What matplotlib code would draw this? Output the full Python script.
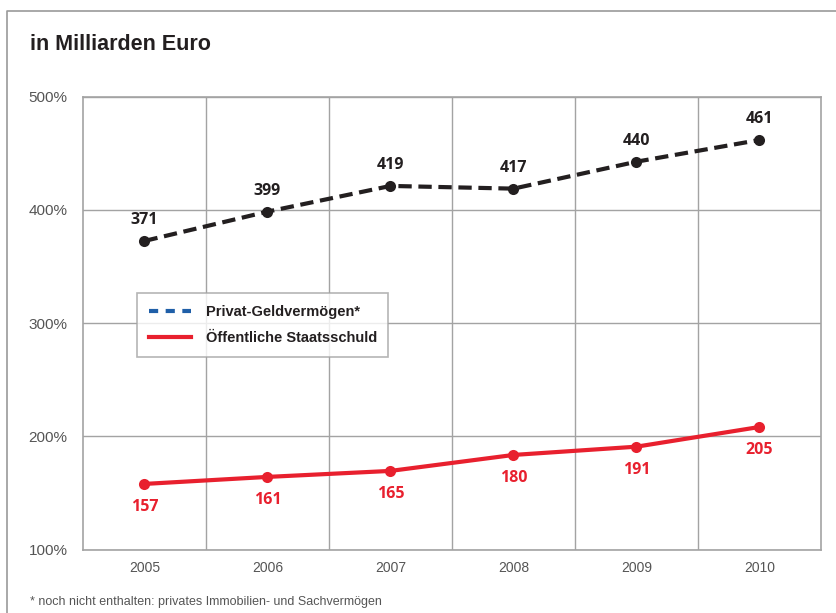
import matplotlib
matplotlib.use('Agg')
import matplotlib.pyplot as plt
from matplotlib.lines import Line2D

# data
years = ['2005', '2006', '2007', '2008', '2009', '2010']
privat_labels = [371, 399, 419, 417, 440, 461]
privat_level = [372.6, 398.5, 421.2, 418.8, 442.6, 461.8]
staat_labels = [157, 161, 165, 180, 191, 205]
staat_level = [158.0, 164.2, 169.5, 183.6, 190.9, 208.3]
y_ticks = [100, 200, 300, 400, 500]
y_ticklabels = ['100%', '200%', '300%', '400%', '500%']
legend_names = ['Privat-Geldvermögen*', 'Öffentliche Staatsschuld']

black = '#231f20'
red = '#e8202e'
blue = '#1f5fa8'
grid = '#a3a3a3'
cond = ['Liberation Sans Narrow', 'Liberation Sans', 'DejaVu Sans']
label_font = ['Open Sans', 'DejaVu Sans']

fig = plt.figure(figsize=(8.37, 6.13), dpi=100)
ax = fig.add_axes([83/837, 1-549.6/613, (821-83)/837, (549.6-96.7)/613])

x = list(range(len(years)))

ax.plot(x, privat_level, color=black, lw=3, dashes=(3.2, 1.6), marker='o', ms=8,
        markeredgewidth=0, zorder=3)
ax.plot(x, staat_level, color=red, lw=3, marker='o', ms=8, markeredgewidth=0, zorder=3)

for i in x:
    ax.annotate(str(privat_labels[i]), (i, privat_level[i]), xytext=(0, 9),
                textcoords='offset points', ha='center', va='bottom', fontsize=11.5,
                fontweight='bold', color=black, family=label_font)
    ax.annotate(str(staat_labels[i]), (i, staat_level[i]), xytext=(0, -11),
                textcoords='offset points', ha='center', va='top', fontsize=11.5,
                fontweight='bold', color=red, family=label_font)

ax.set_xlim(-0.5, len(years) - 0.5)
ax.set_ylim(100, 500)
ax.set_xticks(x)
ax.set_xticklabels(years)
ax.set_yticks(y_ticks)
ax.set_yticklabels(y_ticklabels)
ax.set_xticks([i + 0.5 for i in x[:-1]], minor=True)
ax.grid(True, which='minor', axis='x', color=grid, lw=1)
ax.grid(True, which='major', axis='y', color=grid, lw=1)
ax.tick_params(which='both', length=0)
ax.tick_params(axis='x', pad=8, labelsize=10, labelcolor='#555555')
ax.tick_params(axis='y', pad=11, labelsize=11, labelcolor='#555555')
for lab in ax.get_xticklabels() + ax.get_yticklabels():
    lab.set_family(['Liberation Sans', 'DejaVu Sans'])
for sp in ax.spines.values():
    sp.set_color(grid)
    sp.set_linewidth(1.2)

handles = [Line2D([], [], color=blue, lw=3, dashes=(2.2, 1.8)),
           Line2D([], [], color=red, lw=3)]
leg = ax.legend(handles, legend_names, loc='upper left',
                bbox_to_anchor=((137-83)/738, 1-(293-96.7)/452.9),
                borderaxespad=0, frameon=True, fancybox=False,
                handlelength=2.9, handletextpad=1.0,
                borderpad=0.8, labelspacing=0.85,
                prop={'family': cond, 'weight': 'bold', 'size': 10.5})
leg.get_frame().set_edgecolor(grid)
leg.get_frame().set_linewidth(1.2)
for t in leg.get_texts():
    t.set_color(black)

fig.text(30/837, 1-44/613, 'in Milliarden Euro', fontsize=15.5, fontweight='bold',
         color=black, family=cond, va='center', ha='left')
fig.text(30/837, 1-602/613, '* noch nicht enthalten: privates Immobilien- und Sachvermögen',
         fontsize=9, color='#555555', family=['Liberation Sans', 'DejaVu Sans'],
         va='center', ha='left')

# outer frame (top and left)
fig.add_artist(Line2D([7/837, 7/837, 1], [0, 1-11/613, 1-11/613], color='#9a9a9a', lw=1.2))

fig.savefig('out.png', dpi=100)
